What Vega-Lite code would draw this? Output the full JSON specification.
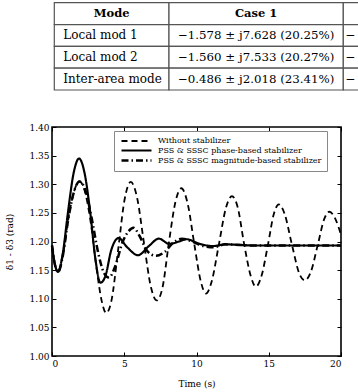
{
  "$schema": "https://vega.github.io/schema/vega-lite/v6.json",
  "width": 289,
  "height": 229,
  "autosize": {"type": "none"},
  "padding": {"left": 52, "top": 127, "right": 17, "bottom": 36},
  "background": "white",
  "config": {
    "font": "DejaVu Serif",
    "view": {"stroke": "black", "strokeWidth": 1.6},
    "axis": {"grid": false, "domain": false}
  },
  "datasets": {
    "tbl": [
      {"r": "h", "c0": 0, "c1": 1, "cm": 0.5, "t": "Mode"},
      {"r": "h", "c0": 1, "c1": 2, "cm": 1.5, "t": "Case 1"},
      {"r": "h", "c0": 2, "c1": 3, "cm": 2.5, "t": ""},
      {"r": "1", "c0": 0, "c1": 1, "cm": 0.5, "t": "Local mod 1"},
      {"r": "1", "c0": 1, "c1": 2, "cm": 1.5, "t": "−1.578 ± j7.628 (20.25%)"},
      {"r": "1", "c0": 2, "c1": 3, "cm": 2.5, "t": "−"},
      {"r": "2", "c0": 0, "c1": 1, "cm": 0.5, "t": "Local mod 2"},
      {"r": "2", "c0": 1, "c1": 2, "cm": 1.5, "t": "−1.560 ± j7.533 (20.27%)"},
      {"r": "2", "c0": 2, "c1": 3, "cm": 2.5, "t": "−"},
      {"r": "3", "c0": 0, "c1": 1, "cm": 0.5, "t": "Inter-area mode"},
      {"r": "3", "c0": 1, "c1": 2, "cm": 1.5, "t": "−0.486 ± j2.018 (23.41%)"},
      {"r": "3", "c0": 2, "c1": 3, "cm": 2.5, "t": "−"}
    ],
    "curves": [
      {"s": "Without stabilizer", "t": 0, "v": 1.193},
      {"s": "Without stabilizer", "t": 0.2, "v": 1.16},
      {"s": "Without stabilizer", "t": 0.42, "v": 1.147},
      {"s": "Without stabilizer", "t": 0.75, "v": 1.175},
      {"s": "Without stabilizer", "t": 1.1, "v": 1.235},
      {"s": "Without stabilizer", "t": 1.5, "v": 1.285},
      {"s": "Without stabilizer", "t": 1.9, "v": 1.305},
      {"s": "Without stabilizer", "t": 2.3, "v": 1.285},
      {"s": "Without stabilizer", "t": 2.7, "v": 1.23},
      {"s": "Without stabilizer", "t": 3.1, "v": 1.15},
      {"s": "Without stabilizer", "t": 3.45, "v": 1.095},
      {"s": "Without stabilizer", "t": 3.75, "v": 1.075},
      {"s": "Without stabilizer", "t": 4.1, "v": 1.095},
      {"s": "Without stabilizer", "t": 4.6, "v": 1.19},
      {"s": "Without stabilizer", "t": 5.0, "v": 1.27},
      {"s": "Without stabilizer", "t": 5.45, "v": 1.304},
      {"s": "Without stabilizer", "t": 5.9, "v": 1.275},
      {"s": "Without stabilizer", "t": 6.35, "v": 1.2},
      {"s": "Without stabilizer", "t": 6.85, "v": 1.12},
      {"s": "Without stabilizer", "t": 7.25, "v": 1.097},
      {"s": "Without stabilizer", "t": 7.65, "v": 1.12},
      {"s": "Without stabilizer", "t": 8.1, "v": 1.2},
      {"s": "Without stabilizer", "t": 8.55, "v": 1.27},
      {"s": "Without stabilizer", "t": 8.95, "v": 1.293},
      {"s": "Without stabilizer", "t": 9.4, "v": 1.265},
      {"s": "Without stabilizer", "t": 9.85, "v": 1.195},
      {"s": "Without stabilizer", "t": 10.3, "v": 1.13},
      {"s": "Without stabilizer", "t": 10.65, "v": 1.109},
      {"s": "Without stabilizer", "t": 11.05, "v": 1.13},
      {"s": "Without stabilizer", "t": 11.55, "v": 1.195},
      {"s": "Without stabilizer", "t": 12.05, "v": 1.26},
      {"s": "Without stabilizer", "t": 12.45, "v": 1.279},
      {"s": "Without stabilizer", "t": 12.85, "v": 1.26},
      {"s": "Without stabilizer", "t": 13.3, "v": 1.195},
      {"s": "Without stabilizer", "t": 13.75, "v": 1.14},
      {"s": "Without stabilizer", "t": 14.1, "v": 1.121},
      {"s": "Without stabilizer", "t": 14.5, "v": 1.14},
      {"s": "Without stabilizer", "t": 14.95, "v": 1.195},
      {"s": "Without stabilizer", "t": 15.35, "v": 1.248},
      {"s": "Without stabilizer", "t": 15.7, "v": 1.265},
      {"s": "Without stabilizer", "t": 16.1, "v": 1.248},
      {"s": "Without stabilizer", "t": 16.6, "v": 1.195},
      {"s": "Without stabilizer", "t": 17.1, "v": 1.145},
      {"s": "Without stabilizer", "t": 17.5, "v": 1.132},
      {"s": "Without stabilizer", "t": 17.9, "v": 1.146},
      {"s": "Without stabilizer", "t": 18.4, "v": 1.195},
      {"s": "Without stabilizer", "t": 18.85, "v": 1.24},
      {"s": "Without stabilizer", "t": 19.2, "v": 1.252},
      {"s": "Without stabilizer", "t": 19.6, "v": 1.24},
      {"s": "Without stabilizer", "t": 20, "v": 1.212},

      {"s": "PSS & SSSC phase-based stabilizer", "t": 0, "v": 1.193},
      {"s": "PSS & SSSC phase-based stabilizer", "t": 0.2, "v": 1.16},
      {"s": "PSS & SSSC phase-based stabilizer", "t": 0.42, "v": 1.147},
      {"s": "PSS & SSSC phase-based stabilizer", "t": 0.75, "v": 1.18},
      {"s": "PSS & SSSC phase-based stabilizer", "t": 1.1, "v": 1.25},
      {"s": "PSS & SSSC phase-based stabilizer", "t": 1.5, "v": 1.32},
      {"s": "PSS & SSSC phase-based stabilizer", "t": 1.87, "v": 1.345},
      {"s": "PSS & SSSC phase-based stabilizer", "t": 2.25, "v": 1.32},
      {"s": "PSS & SSSC phase-based stabilizer", "t": 2.65, "v": 1.25},
      {"s": "PSS & SSSC phase-based stabilizer", "t": 3.0, "v": 1.17},
      {"s": "PSS & SSSC phase-based stabilizer", "t": 3.35, "v": 1.128},
      {"s": "PSS & SSSC phase-based stabilizer", "t": 3.7, "v": 1.14},
      {"s": "PSS & SSSC phase-based stabilizer", "t": 4.1, "v": 1.185},
      {"s": "PSS & SSSC phase-based stabilizer", "t": 4.6, "v": 1.206},
      {"s": "PSS & SSSC phase-based stabilizer", "t": 5.2, "v": 1.19},
      {"s": "PSS & SSSC phase-based stabilizer", "t": 5.95, "v": 1.176},
      {"s": "PSS & SSSC phase-based stabilizer", "t": 6.7, "v": 1.192},
      {"s": "PSS & SSSC phase-based stabilizer", "t": 7.4, "v": 1.205},
      {"s": "PSS & SSSC phase-based stabilizer", "t": 8.1, "v": 1.196},
      {"s": "PSS & SSSC phase-based stabilizer", "t": 8.8, "v": 1.2},
      {"s": "PSS & SSSC phase-based stabilizer", "t": 9.3, "v": 1.204},
      {"s": "PSS & SSSC phase-based stabilizer", "t": 10.2, "v": 1.196},
      {"s": "PSS & SSSC phase-based stabilizer", "t": 11.1, "v": 1.192},
      {"s": "PSS & SSSC phase-based stabilizer", "t": 12, "v": 1.195},
      {"s": "PSS & SSSC phase-based stabilizer", "t": 13, "v": 1.194},
      {"s": "PSS & SSSC phase-based stabilizer", "t": 14, "v": 1.193},
      {"s": "PSS & SSSC phase-based stabilizer", "t": 17, "v": 1.193},
      {"s": "PSS & SSSC phase-based stabilizer", "t": 20, "v": 1.193},

      {"s": "PSS & SSSC magnitude-based stabilizer", "t": 0, "v": 1.193},
      {"s": "PSS & SSSC magnitude-based stabilizer", "t": 0.2, "v": 1.16},
      {"s": "PSS & SSSC magnitude-based stabilizer", "t": 0.42, "v": 1.147},
      {"s": "PSS & SSSC magnitude-based stabilizer", "t": 0.75, "v": 1.175},
      {"s": "PSS & SSSC magnitude-based stabilizer", "t": 1.1, "v": 1.235},
      {"s": "PSS & SSSC magnitude-based stabilizer", "t": 1.5, "v": 1.285},
      {"s": "PSS & SSSC magnitude-based stabilizer", "t": 1.9, "v": 1.305},
      {"s": "PSS & SSSC magnitude-based stabilizer", "t": 2.3, "v": 1.29},
      {"s": "PSS & SSSC magnitude-based stabilizer", "t": 2.75, "v": 1.24},
      {"s": "PSS & SSSC magnitude-based stabilizer", "t": 3.2, "v": 1.18},
      {"s": "PSS & SSSC magnitude-based stabilizer", "t": 3.6, "v": 1.145},
      {"s": "PSS & SSSC magnitude-based stabilizer", "t": 3.95, "v": 1.137},
      {"s": "PSS & SSSC magnitude-based stabilizer", "t": 4.35, "v": 1.155},
      {"s": "PSS & SSSC magnitude-based stabilizer", "t": 4.9, "v": 1.2},
      {"s": "PSS & SSSC magnitude-based stabilizer", "t": 5.3, "v": 1.218},
      {"s": "PSS & SSSC magnitude-based stabilizer", "t": 5.65, "v": 1.224},
      {"s": "PSS & SSSC magnitude-based stabilizer", "t": 6.05, "v": 1.21},
      {"s": "PSS & SSSC magnitude-based stabilizer", "t": 6.6, "v": 1.183},
      {"s": "PSS & SSSC magnitude-based stabilizer", "t": 7.2, "v": 1.175},
      {"s": "PSS & SSSC magnitude-based stabilizer", "t": 7.8, "v": 1.182},
      {"s": "PSS & SSSC magnitude-based stabilizer", "t": 8.4, "v": 1.198},
      {"s": "PSS & SSSC magnitude-based stabilizer", "t": 9.0, "v": 1.205},
      {"s": "PSS & SSSC magnitude-based stabilizer", "t": 9.7, "v": 1.2},
      {"s": "PSS & SSSC magnitude-based stabilizer", "t": 10.5, "v": 1.192},
      {"s": "PSS & SSSC magnitude-based stabilizer", "t": 11.2, "v": 1.19},
      {"s": "PSS & SSSC magnitude-based stabilizer", "t": 12, "v": 1.195},
      {"s": "PSS & SSSC magnitude-based stabilizer", "t": 13, "v": 1.194},
      {"s": "PSS & SSSC magnitude-based stabilizer", "t": 14, "v": 1.193},
      {"s": "PSS & SSSC magnitude-based stabilizer", "t": 17, "v": 1.193},
      {"s": "PSS & SSSC magnitude-based stabilizer", "t": 20, "v": 1.193}
    ]
  },
  "layer": [
    {
      "data": {"name": "tbl"},
      "encoding": {
        "y": {"field": "r", "type": "nominal", "axis": null,
              "scale": {"type": "band", "domain": ["h", "1", "2", "3"], "range": [-124.3, -37], "paddingInner": 0, "paddingOuter": 0}}
      },
      "layer": [
        {
          "mark": {"type": "rect", "fill": "white", "stroke": "#555", "strokeWidth": 1.2},
          "encoding": {
            "x": {"field": "c0", "type": "quantitative", "axis": null,
                  "scale": {"domain": [0, 1, 2, 3], "range": [2.3, 117, 291.3, 465], "nice": false, "zero": false}},
            "x2": {"field": "c1"}
          }
        },
        {
          "transform": [{"filter": "datum.r == 'h'"}],
          "mark": {"type": "text", "align": "center", "baseline": "middle", "fontSize": 11.5, "fontWeight": "bold", "color": "black"},
          "encoding": {
            "x": {"field": "cm", "type": "quantitative"},
            "text": {"field": "t"}
          }
        },
        {
          "transform": [{"filter": "datum.r != 'h' && datum.c0 == 0"}],
          "mark": {"type": "text", "align": "left", "baseline": "middle", "dx": 9, "fontSize": 12, "color": "black"},
          "encoding": {
            "x": {"field": "c0", "type": "quantitative"},
            "text": {"field": "t"}
          }
        },
        {
          "transform": [{"filter": "datum.r != 'h' && datum.c0 == 1"}],
          "mark": {"type": "text", "align": "center", "baseline": "middle", "fontSize": 11.8, "color": "black"},
          "encoding": {
            "x": {"field": "cm", "type": "quantitative"},
            "text": {"field": "t"}
          }
        },
        {
          "transform": [{"filter": "datum.r != 'h' && datum.c0 == 2"}],
          "mark": {"type": "text", "align": "left", "baseline": "middle", "dx": 2, "fontSize": 12, "color": "black"},
          "encoding": {
            "x": {"field": "c0", "type": "quantitative"},
            "text": {"field": "t"}
          }
        }
      ]
    },
    {
      "data": {"name": "curves"},
      "mark": {"type": "line", "interpolate": "monotone", "color": "black"},
      "encoding": {
        "x": {"field": "t", "type": "quantitative",
              "scale": {"domain": [0, 20], "nice": false, "zero": false},
              "axis": {"orient": "bottom", "values": [0, 5, 10, 15, 20], "title": "Time (s)", "ticks": false,
                       "grid": true, "gridColor": "black", "gridWidth": 1, "gridDash": [4, 221, 4, 1000],
                       "labelFontSize": 9, "labelColor": "black", "labelPadding": 3,
                       "titleFontSize": 9, "titleFontWeight": "normal", "titleColor": "black", "titlePadding": 11}},
        "y": {"field": "v", "type": "quantitative",
              "scale": {"domain": [1, 1.4], "nice": false, "zero": false},
              "axis": {"orient": "left", "values": [1, 1.05, 1.1, 1.15, 1.2, 1.25, 1.3, 1.35, 1.4], "format": ".2f", "title": "δ1 - δ3 (rad)", "ticks": false,
                       "grid": true, "gridColor": "black", "gridWidth": 1, "gridDash": [4, 281, 4, 1000],
                       "labelFontSize": 9, "labelColor": "black", "labelPadding": 3,
                       "titleFontSize": 9, "titleFontWeight": "normal", "titleColor": "black", "titlePadding": 14}},
        "strokeDash": {"field": "s", "type": "nominal",
                       "scale": {"domain": ["Without stabilizer", "PSS & SSSC phase-based stabilizer", "PSS & SSSC magnitude-based stabilizer"],
                                 "range": [[6, 4], [1, 0], [7, 3, 1.5, 3]]},
                       "legend": {"orient": "none", "legendX": 62, "legendY": 4, "title": null,
                                  "strokeColor": "#888", "fillColor": "white", "padding": 5,
                                  "labelFontSize": 8, "labelColor": "black", "labelLimit": 300,
                                  "symbolType": "M-0.75,0H6.75", "symbolSize": 64, "labelOffset": 28,
                                  "rowPadding": 0, "symbolStrokeColor": "black", "symbolFillColor": "transparent"}},
        "strokeWidth": {"field": "s", "type": "nominal",
                        "scale": {"domain": ["Without stabilizer", "PSS & SSSC phase-based stabilizer", "PSS & SSSC magnitude-based stabilizer"],
                                  "range": [1.8, 2.5, 1.9]},
                        "legend": {"orient": "none", "legendX": 62, "legendY": 4, "title": null,
                                  "strokeColor": "#888", "fillColor": "white", "padding": 5,
                                  "labelFontSize": 8, "labelColor": "black", "labelLimit": 300,
                                  "symbolType": "M-0.75,0H6.75", "symbolSize": 64, "labelOffset": 28,
                                  "rowPadding": 0, "symbolStrokeColor": "black", "symbolFillColor": "transparent"}}
      }
    }
  ],
  "resolve": {"scale": {"x": "independent", "y": "independent"}}
}
